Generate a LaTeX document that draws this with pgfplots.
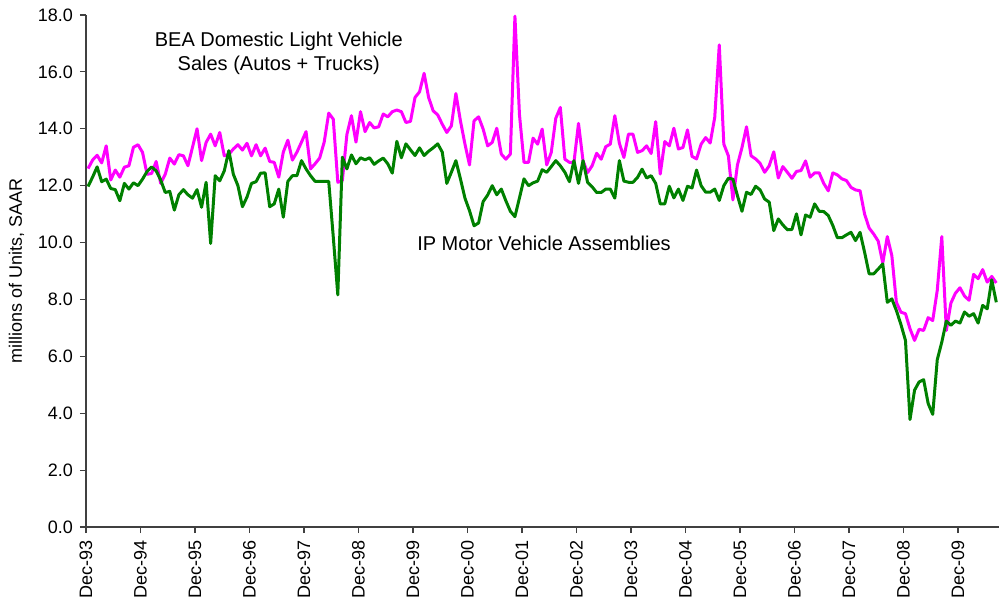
\documentclass[border=0pt]{standalone}
\usepackage{fontspec}
\setmainfont{Liberation Sans}
\usepackage{pgfplots}
\usepackage{pgfplotstable}
\pgfplotsset{compat=1.18}
\usetikzlibrary{calc}
\definecolor{ipgreen}{RGB}{0,128,0}
\definecolor{beamag}{RGB}{255,0,255}

% k = month index, 0 = Dec-93
\pgfplotstableread{
k bea ip
0 12.60 11.97
1 12.90 12.30
2 13.07 12.66
3 12.80 12.14
4 13.40 12.23
5 12.20 11.90
6 12.55 11.86
7 12.30 11.47
8 12.65 12.08
9 12.70 11.88
10 13.35 12.10
11 13.44 12.00
12 13.17 12.23
13 12.40 12.50
14 12.43 12.66
15 12.85 12.52
16 12.08 12.20
17 12.40 11.76
18 12.97 11.80
19 12.76 11.14
20 13.09 11.68
21 13.05 11.86
22 12.70 11.68
23 13.35 11.56
24 14.00 11.86
25 12.88 11.24
26 13.52 12.12
27 13.81 9.97
28 13.40 12.35
29 13.87 12.17
30 13.05 12.52
31 13.10 13.23
32 13.29 12.40
33 13.44 12.00
34 13.25 11.26
35 13.49 11.60
36 13.05 12.08
37 13.44 12.14
38 13.05 12.44
39 13.32 12.45
40 12.85 11.26
41 12.82 11.36
42 12.30 11.88
43 13.18 10.89
44 13.60 12.15
45 12.90 12.35
46 13.18 12.35
47 13.53 12.88
48 13.90 12.59
49 12.59 12.35
50 12.77 12.15
51 12.97 12.15
52 13.53 12.15
53 14.55 12.15
54 14.34 10.20
55 12.12 8.16
56 12.18 13.00
57 13.80 12.59
58 14.46 13.08
59 13.53 12.77
60 14.60 12.98
61 13.90 12.91
62 14.22 12.98
63 14.03 12.75
64 14.07 12.87
65 14.52 12.97
66 14.42 12.77
67 14.60 12.44
68 14.66 13.56
69 14.60 12.98
70 14.22 13.47
71 14.26 13.26
72 15.10 13.06
73 15.30 13.33
74 15.95 13.06
75 15.10 13.21
76 14.63 13.33
77 14.49 13.47
78 14.16 13.18
79 13.87 12.08
80 14.10 12.47
81 15.24 12.88
82 14.28 12.24
83 13.46 11.56
84 12.73 11.12
85 14.28 10.59
86 14.42 10.69
87 13.99 11.44
88 13.40 11.67
89 13.52 12.00
90 14.02 11.68
91 13.11 11.88
92 12.93 11.47
93 13.11 11.10
94 17.96 10.91
95 14.50 11.57
96 12.82 12.24
97 12.82 12.00
98 13.67 12.10
99 13.46 12.16
100 13.99 12.56
101 12.73 12.47
102 13.17 12.67
103 14.37 12.88
104 14.75 12.70
105 12.93 12.47
106 12.82 12.14
107 12.82 12.88
108 14.19 12.08
109 12.87 12.88
110 12.46 12.12
111 12.70 11.96
112 13.14 11.76
113 12.93 11.76
114 13.37 11.88
115 13.46 11.88
116 14.46 11.56
117 13.49 12.88
118 12.99 12.16
119 13.81 12.12
120 13.81 12.12
121 13.17 12.29
122 13.23 12.58
123 13.40 12.27
124 13.13 12.35
125 14.25 12.08
126 12.41 11.36
127 13.55 11.36
128 13.40 11.98
129 14.02 11.57
130 13.29 11.88
131 13.34 11.48
132 13.96 11.98
133 13.03 11.92
134 12.94 12.55
135 13.46 12.00
136 13.69 11.77
137 13.50 11.77
138 14.40 11.88
139 16.95 11.48
140 13.46 12.00
141 13.05 12.26
142 11.50 12.23
143 12.73 11.65
144 13.34 11.10
145 14.07 11.77
146 13.05 11.69
147 12.94 11.98
148 12.78 11.85
149 12.47 11.53
150 12.70 11.42
151 13.19 10.42
152 12.27 10.83
153 12.67 10.62
154 12.47 10.45
155 12.26 10.46
156 12.50 11.01
157 12.53 10.27
158 12.87 10.97
159 12.30 10.89
160 12.45 11.36
161 12.45 11.10
162 12.08 11.09
163 11.82 10.95
164 12.45 10.60
165 12.38 10.17
166 12.24 10.17
167 12.18 10.27
168 11.94 10.36
169 11.85 10.07
170 11.82 10.36
171 11.00 9.66
172 10.51 8.90
173 10.30 8.90
174 10.05 9.07
175 9.28 9.25
176 10.21 7.90
177 9.54 8.02
178 7.90 7.61
179 7.55 7.12
180 7.50 6.56
181 6.97 3.78
182 6.56 4.81
183 6.95 5.10
184 6.91 5.18
185 7.36 4.34
186 7.26 3.96
187 8.32 5.88
188 10.21 6.50
189 6.91 7.24
190 7.87 7.09
191 8.22 7.24
192 8.41 7.17
193 8.12 7.56
194 7.97 7.41
195 8.88 7.50
196 8.73 7.17
197 9.05 7.79
198 8.61 7.67
199 8.81 8.69
200 8.58 7.90
}\vehdata

\begin{document}
\begin{tikzpicture}
\begin{axis}[
  scale only axis, width=456.5pt, height=256pt,
  xmin=-0.45, xmax=200.6, ymin=0, ymax=18,
  axis x line*=bottom, axis y line*=left,
  axis line style={draw=black!75, line width=0.6pt, -},
  tick style={draw=black!75, line width=0.6pt},
  tick align=outside, major tick length=3pt,
  xtick={-0.45,11.55,23.55,35.55,47.55,59.55,71.55,83.55,95.55,107.55,119.55,131.55,143.55,155.55,167.55,179.55,191.55},
  xticklabels={Dec-93,Dec-94,Dec-95,Dec-96,Dec-97,Dec-98,Dec-99,Dec-00,Dec-01,Dec-02,Dec-03,Dec-04,Dec-05,Dec-06,Dec-07,Dec-08,Dec-09},
  x tick label style={rotate=90, anchor=east},
  ytick={0,2,4,6,8,10,12,14,16,18},
  y tick label style={/pgf/number format/fixed, /pgf/number format/fixed zerofill, /pgf/number format/precision=1},
  /pgf/number format/assume math mode=true,
  tick label style={font=\fontsize{9}{10.8}\selectfont},
  label style={font=\fontsize{9}{10.8}\selectfont},
  ylabel={millions of Units, SAAR},
  clip=true,
]
\addplot[beamag, line width=1.5pt, line join=round] table[x=k, y=bea] {\vehdata};
\addplot[ipgreen, line width=1.5pt, line join=round] table[x=k, y=ip] {\vehdata};
\node[align=center, font=\fontsize{10}{12}\selectfont] at (axis cs:42,16.67) {BEA Domestic Light Vehicle\\Sales (Autos + Trucks)};
\node[font=\fontsize{10}{12}\selectfont] at (axis cs:100.4,9.96) {IP Motor Vehicle Assemblies};
\end{axis}
\pgfresetboundingbox
\path[use as bounding box] ($(current axis.south west)+(-43pt,-39pt)$) rectangle ($(current axis.north east)+(0pt,7.5pt)$);
\end{tikzpicture}
\end{document}
